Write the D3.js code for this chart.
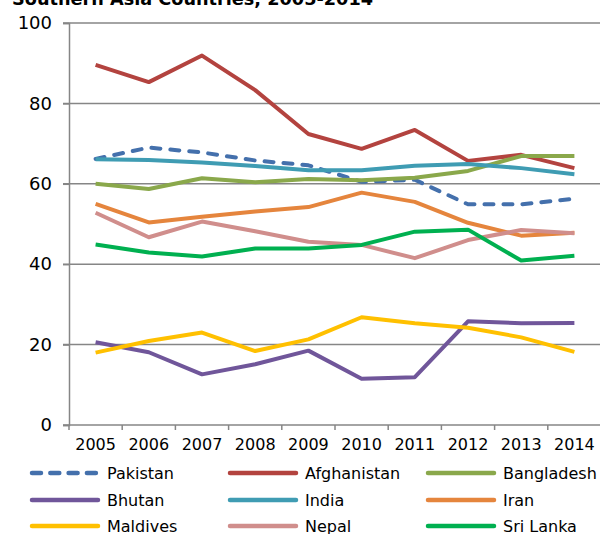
<!DOCTYPE html>
<html>
<head>
<meta charset="utf-8">
<script src="https://cdn.jsdelivr.net/npm/d3@7"></script>
<style>
  body { margin: 0; background: #fff; }
  svg { display: block; font-family: "DejaVu Sans", sans-serif; }
</style>
</head>
<body>
<div id="chart"></div>
<script>
// Data.
var years = ['2005', '2006', '2007', '2008', '2009', '2010', '2011', '2012', '2013', '2014'];
var countries = ['Pakistan', 'Afghanistan', 'Bangladesh', 'Bhutan', 'India', 'Iran', 'Maldives', 'Nepal', 'Sri Lanka'];
var pakistan    = [66.2, 69.0, 67.8, 65.8, 64.6, 60.5, 61.0, 54.9, 54.9, 56.3];
var afghanistan = [89.6, 85.3, 91.9, 83.3, 72.4, 68.7, 73.4, 65.7, 67.2, 63.9];
var bangladesh  = [60.0, 58.7, 61.4, 60.4, 61.2, 60.9, 61.5, 63.2, 66.9, 66.9];
var bhutan      = [20.6, 18.1, 12.6, 15.1, 18.5, 11.5, 11.9, 25.8, 25.3, 25.4];
var india       = [66.1, 65.9, 65.3, 64.4, 63.4, 63.4, 64.5, 64.9, 63.9, 62.4];
var iran        = [55.0, 50.4, 51.8, 53.1, 54.2, 57.8, 55.5, 50.3, 47.1, 47.8];
var maldives    = [18.0, 20.9, 23.0, 18.4, 21.3, 26.8, 25.3, 24.2, 21.8, 18.2];
var nepal       = [52.8, 46.7, 50.6, 48.2, 45.6, 44.8, 41.5, 46.0, 48.5, 47.7];
var sriLanka    = [44.9, 42.9, 41.9, 43.9, 43.9, 44.8, 48.1, 48.6, 40.9, 42.1];
var yTicks = [0, 20, 40, 60, 80, 100];

var seriesValues = [pakistan, afghanistan, bangladesh, bhutan, india, iran, maldives, nepal, sriLanka];
var colors = ['#4470AC', '#B3433F', '#8AA84B', '#70569A', '#3F9CB3', '#E5853D', '#FFC000', '#D08E8C', '#00B050'];

var W = 600, H = 534;
var margin = {top: 23, right: -1, left: 69};
var plotBottom = 425;

var svg = d3.select('#chart').append('svg')
    .attr('width', W)
    .attr('height', H);

// Title, mostly cut off at the top edge.
svg.append('text')
    .attr('x', 12)
    .attr('y', 5)
    .attr('font-size', 18)
    .attr('font-weight', 'bold')
    .attr('textLength', 361)
    .attr('lengthAdjust', 'spacingAndGlyphs')
    .text('Southern Asia Countries, 2005-2014');

var x = d3.scaleBand().domain(years).range([margin.left, W - margin.right]);
var y = d3.scaleLinear().domain([0, 100]).range([plotBottom, margin.top]);

// Gridlines.
svg.append('g')
    .selectAll('line')
    .data(yTicks)
    .enter()
    .append('line')
    .attr('x1', margin.left - 6)
    .attr('x2', W - margin.right)
    .attr('y1', function (d) {return y(d);})
    .attr('y2', function (d) {return y(d);})
    .attr('stroke', '#868686')
    .attr('stroke-width', 1.5);

// Y axis.
var yAxis = svg.append('g')
    .attr('transform', 'translate(' + margin.left + ',0)')
    .call(d3.axisLeft(y).tickValues(yTicks).tickSize(6).tickPadding(11));
yAxis.select('.domain').attr('stroke', '#868686').attr('stroke-width', 1.5);
yAxis.selectAll('.tick line').attr('stroke', '#868686').attr('stroke-width', 1.5);
yAxis.selectAll('.tick text')
    .attr('font-size', 18)
    .attr('font-family', '"DejaVu Sans", sans-serif')
    .attr('fill', '#000');

// X axis: ticks sit on the band boundaries.
var xAxis = svg.append('g')
    .attr('transform', 'translate(0,' + plotBottom + ')')
    .call(d3.axisBottom(x).tickSize(0).tickPadding(14));
xAxis.select('.domain').remove();
xAxis.selectAll('.tick text')
    .attr('font-size', 16)
    .attr('font-family', '"DejaVu Sans", sans-serif')
    .attr('fill', '#000');
svg.append('g')
    .selectAll('line')
    .data(years)
    .enter()
    .append('line')
    .attr('x1', function (d) {return x(d);})
    .attr('x2', function (d) {return x(d);})
    .attr('y1', plotBottom)
    .attr('y2', plotBottom + 5)
    .attr('stroke', '#868686')
    .attr('stroke-width', 1.5);

// Series lines.
var line = d3.line()
    .x(function (d, i) {return x(years[i]) + x.bandwidth() / 2;})
    .y(function (d) {return y(d);});

svg.append('g')
    .selectAll('path')
    .data(seriesValues)
    .enter()
    .append('path')
    .attr('d', line)
    .attr('fill', 'none')
    .attr('stroke', function (d, i) {return colors[i];})
    .attr('stroke-width', 4)
    .attr('stroke-linejoin', 'round')
    .attr('stroke-linecap', function (d, i) {return i === 0 ? 'round' : 'butt';})
    .attr('stroke-dasharray', function (d, i) {return i === 0 ? '9,10' : null;});

// Legend: three columns, three rows.
var legendCols = [30, 228, 426];
var legendRows = [473, 500, 526];
var legend = svg.append('g')
    .selectAll('g')
    .data(countries)
    .enter()
    .append('g')
    .attr('transform', function (d, i) {
        return 'translate(' + legendCols[i % 3] + ',' + legendRows[Math.floor(i / 3)] + ')';
    });
legend.append('line')
    .attr('x1', 2)
    .attr('x2', 68)
    .attr('stroke', function (d, i) {return colors[i];})
    .attr('stroke-width', 4.5)
    .attr('stroke-linecap', 'round')
    .attr('stroke-dasharray', function (d, i) {return i === 0 ? '9,9.3' : null;});
legend.append('text')
    .attr('x', 77)
    .attr('dy', '0.35em')
    .attr('font-size', 16)
    .text(function (d) {return d;});
</script>
</body>
</html>
